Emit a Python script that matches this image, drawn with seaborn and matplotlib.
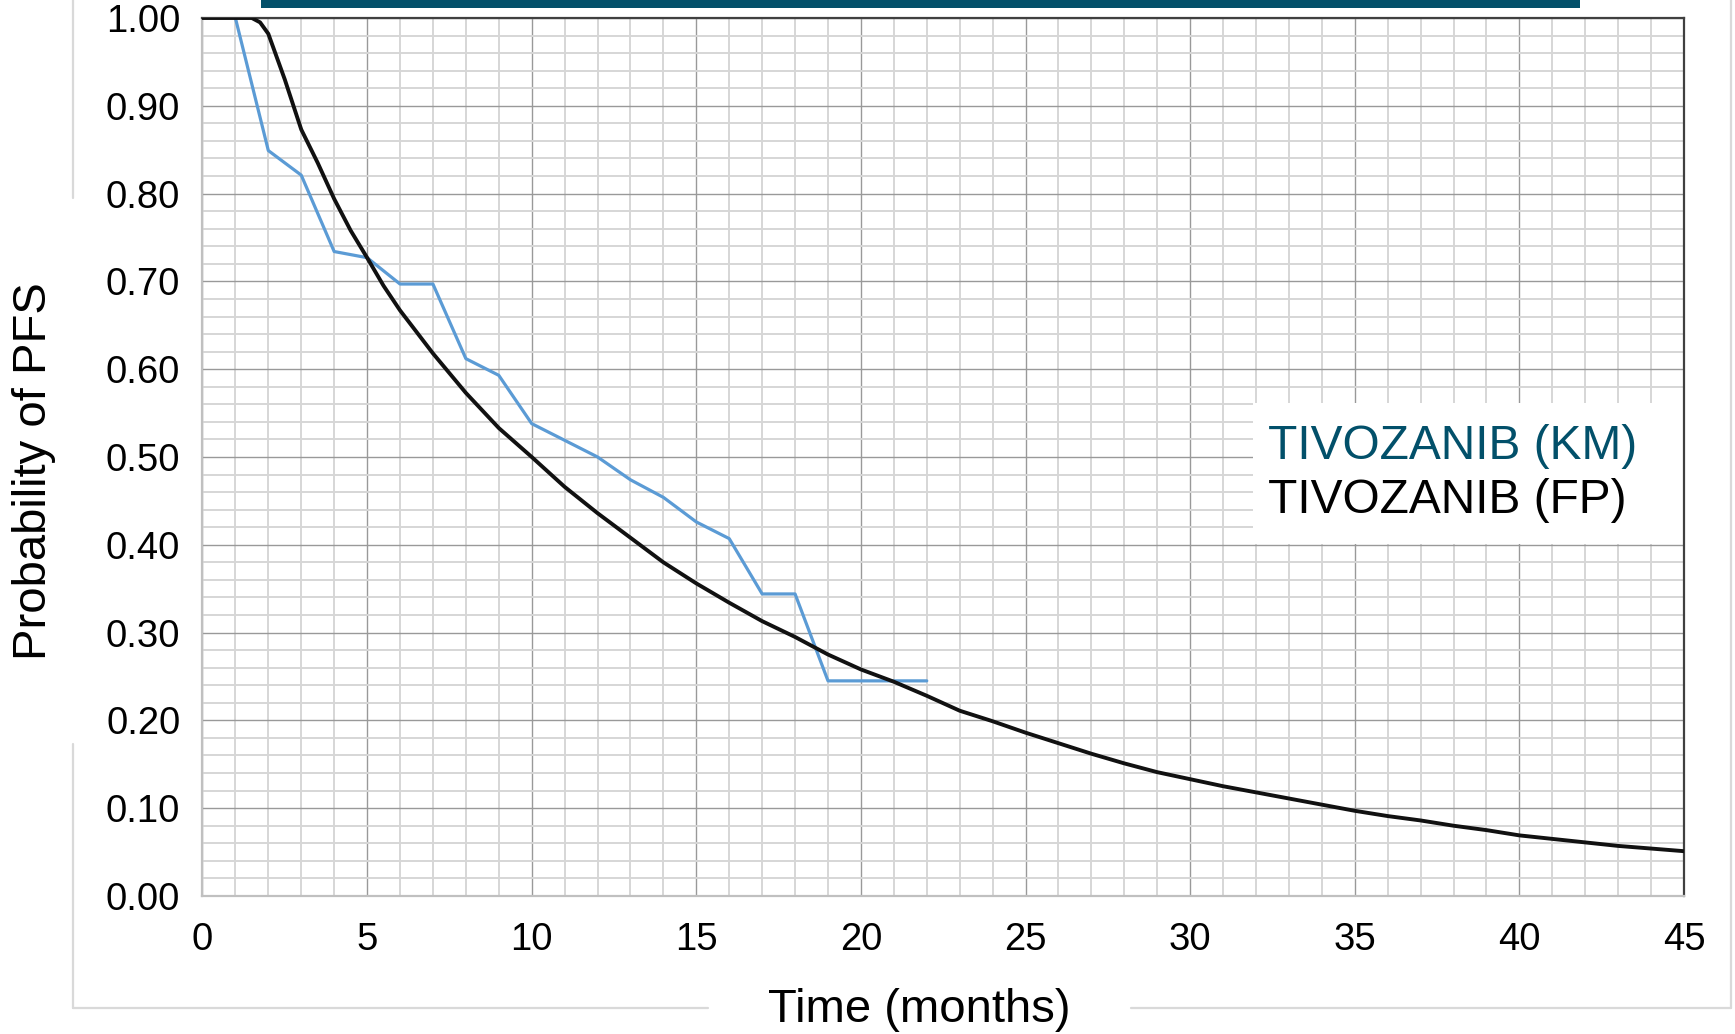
import matplotlib
matplotlib.use("Agg")
import matplotlib.pyplot as plt
import seaborn as sns
import pandas as pd
from matplotlib.patches import Rectangle
from matplotlib.lines import Line2D
from matplotlib.ticker import MultipleLocator, FormatStrFormatter

# Kaplan-Meier steps
km_months = [1, 2, 3, 4, 5, 6, 7, 8, 9, 10, 11, 12, 13, 14, 15, 16, 17, 18, 19, 20, 21, 22]
km_values = [1.0, 0.849, 0.821, 0.734, 0.727, 0.697, 0.697, 0.612, 0.593, 0.538, 0.519, 0.500,
             0.474, 0.454, 0.426, 0.407, 0.344, 0.344, 0.245, 0.245, 0.245, 0.245]

# fractional polynomial fit
fp_months = [0, 1, 1.5, 1.75, 2, 2.5, 3, 3.5, 4, 4.5, 5, 5.5,
             6, 7, 8, 9, 10, 11, 12, 13, 14, 15, 16, 17, 18, 19, 20, 21, 22, 23, 24, 25,
             26, 27, 28, 29, 30, 31, 32, 33, 34, 35, 36, 37, 38, 39, 40, 41, 42, 43, 44, 45]
fp_values = [1.0, 1.0, 1.0, 0.995, 0.982, 0.93, 0.873, 0.835, 0.794, 0.758, 0.727, 0.695,
             0.667, 0.618, 0.573, 0.533, 0.500, 0.466, 0.436, 0.408, 0.380, 0.356, 0.334, 0.313,
             0.295, 0.275, 0.258, 0.244, 0.228, 0.211, 0.199, 0.186, 0.174, 0.162, 0.151, 0.141,
             0.133, 0.125, 0.118, 0.111, 0.104, 0.097, 0.091, 0.086, 0.080, 0.075, 0.069, 0.065,
             0.061, 0.057, 0.054, 0.051]

series_labels = ["TIVOZANIB (KM)", "TIVOZANIB (FP)"]
x_ticks = [0, 5, 10, 15, 20, 25, 30, 35, 40, 45]

km = pd.DataFrame({"month": km_months, "pfs": km_values})
fp = pd.DataFrame({"month": fp_months, "pfs": fp_values})

sns.set_theme(style="white")
plt.rcParams["font.family"] = ["Liberation Sans", "DejaVu Sans"]

fig = plt.figure(figsize=(17.35, 10.34), dpi=100)
ax = fig.add_axes([0.1167, 0.1335, 0.8539, 0.8491])

sns.lineplot(data=km, x="month", y="pfs", ax=ax, color="#5b9bd5", linewidth=2.3,
             label=series_labels[0], zorder=3)
sns.lineplot(data=fp, x="month", y="pfs", ax=ax, color="#111111", linewidth=2.8,
             label=series_labels[1], zorder=4)

ax.set_xlim(0, 45)
ax.set_ylim(0, 1.0)
ax.set_xticks(x_ticks)
ax.yaxis.set_major_locator(MultipleLocator(0.1))
ax.yaxis.set_major_formatter(FormatStrFormatter("%.2f"))
ax.xaxis.set_minor_locator(MultipleLocator(1))
ax.yaxis.set_minor_locator(MultipleLocator(0.02))

ax.grid(which="minor", color="#d6d6d6", linewidth=1.4, zorder=0)
ax.grid(which="major", color="#999999", linewidth=1.0, zorder=1)
ax.set_axisbelow(True)

ax.tick_params(axis="both", which="both", length=0, labelsize=27.5, colors="black")
ax.tick_params(axis="y", pad=16)
ax.tick_params(axis="x", pad=19)

for side in ["top", "right"]:
    ax.spines[side].set_color("#404040")
    ax.spines[side].set_linewidth(1.6)
for side in ["left", "bottom"]:
    ax.spines[side].set_color("#c0c0c0")
    ax.spines[side].set_linewidth(1.6)

ax.set_xlabel("Time (months)", fontsize=34, color="black")
ax.set_ylabel("Probability of PFS", fontsize=34, color="black")
ax.xaxis.set_label_coords(0.484, -0.105)
ax.yaxis.set_label_coords(-0.099, 0.484)

# white box behind the legend, reaching the right edge of the plot
ax.add_patch(Rectangle((0.709, 0.401), 0.291, 0.1605, transform=ax.transAxes,
                       facecolor="white", edgecolor="none", zorder=2))

leg = ax.legend(loc="center left", bbox_to_anchor=(0.7077, 0.481), fontsize=34.5,
                handlelength=0, handletextpad=-0.5, labelspacing=0.18, borderpad=0.35,
                frameon=False, labelcolor=["#02506a", "black"])
for h in leg.legend_handles:
    h.set_visible(False)

# teal title bar cut off at the top
fig.patches.append(Rectangle((0.1504, 0.9918), 0.7602, 0.0082, transform=fig.transFigure,
                             facecolor="#03506a", edgecolor="none"))

# light outer frame
frame_kw = dict(transform=fig.transFigure, color="#d9d9d9", linewidth=1.6)
fig.lines.append(Line2D([0.0421, 0.0421], [1.0, 1 - 198 / 1034], **frame_kw))
fig.lines.append(Line2D([0.0421, 0.0421], [1 - 744 / 1034, 1 - 1008 / 1034], **frame_kw))
fig.lines.append(Line2D([0.0421, 708 / 1735], [1 - 1008 / 1034, 1 - 1008 / 1034], **frame_kw))
fig.lines.append(Line2D([1131 / 1735, 1731 / 1735], [1 - 1008 / 1034, 1 - 1008 / 1034], **frame_kw))
fig.lines.append(Line2D([1731 / 1735, 1731 / 1735], [1.0, 1 - 1008 / 1034], **frame_kw))

fig.savefig("out.png", dpi=100, facecolor="white")
